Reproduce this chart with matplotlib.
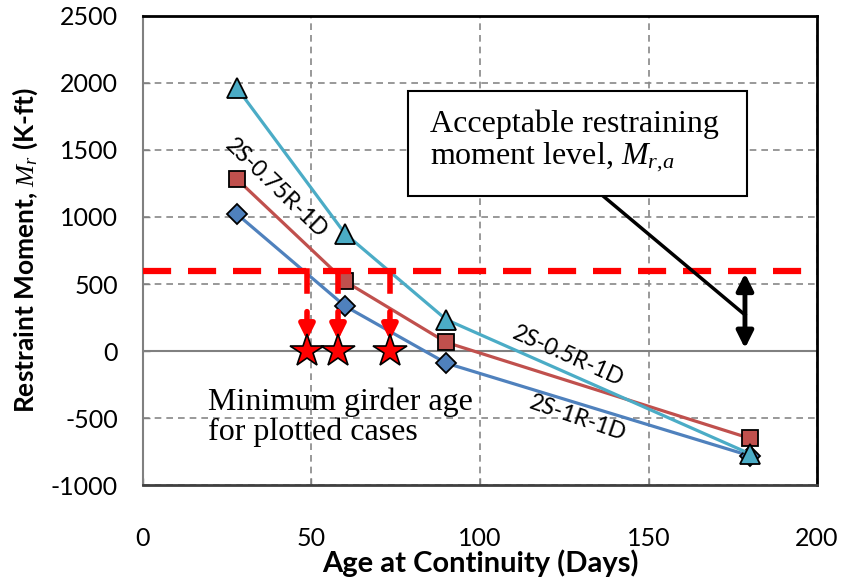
import matplotlib
matplotlib.use("Agg")
import matplotlib.pyplot as plt
from matplotlib.patches import Rectangle

plt.rcParams['mathtext.fontset'] = 'custom'
plt.rcParams['mathtext.it'] = 'Liberation Serif:italic'
plt.rcParams['mathtext.rm'] = 'Liberation Serif'
plt.rcParams['axes.unicode_minus'] = False

# data
age = [28, 60, 90, 180]
m_1r = [1020, 335, -90, -780]      # 2S-1R-1D
m_075r = [1280, 520, 65, -650]     # 2S-0.75R-1D
m_05r = [1960, 875, 235, -765]     # 2S-0.5R-1D
m_accept = 600
min_age = [48.7, 57.9, 73.3]

fig = plt.figure(figsize=(8.45, 5.86), dpi=100)
ax = fig.add_axes([0.169, 0.172, 0.798, 0.801])

ax.set_xlim(0, 200)
ax.set_ylim(-1000, 2500)
ax.set_xticks([0, 50, 100, 150, 200])
ax.set_yticks(range(-1000, 2501, 500))
ax.grid(True, color='#888888', linestyle=(0, (4, 3)), linewidth=1.2)
ax.axhline(0, color='#808080', lw=1.5, zorder=1)
ax.set_axisbelow(True)

blue, red, cyan = '#4F81BD', '#C0504D', '#4BACC6'
ax.plot(age, m_1r, color=blue, lw=2.3, marker='D', ms=10, mfc=blue, mec='black', mew=1.3, zorder=4)
ax.plot(age, m_075r, color=red, lw=2.3, marker='s', ms=12, mfc=red, mec='black', mew=1.3, zorder=4)
ax.plot(age, m_05r, color=cyan, lw=2.3, marker='^', ms=15, mfc=cyan, mec='black', mew=1.3, zorder=4)

# acceptable level and minimum ages
ax.axhline(m_accept, color='red', lw=4.5, linestyle=(0, (4.5, 2.7)), zorder=5)
for a in min_age:
    ax.plot([a, a], [m_accept, 450], color='red', lw=4, zorder=5)
    ax.annotate('', xy=(a, 60), xytext=(a, 315),
                arrowprops=dict(arrowstyle='-|>', color='red', lw=4, mutation_scale=22), zorder=5)
ax.plot(min_age, [0] * len(min_age), linestyle='none', marker='*', ms=25,
        mfc='red', mec='black', mew=1.2, zorder=6)

# double arrow and annotation box
ax.annotate('', xy=(178.6, 600), xytext=(178.6, 0),
            arrowprops=dict(arrowstyle='<|-|>', color='black', lw=3.5, mutation_scale=25), zorder=6)
ax.plot([136.5, 178.6], [1157, 270], color='black', lw=2.5, zorder=6)
ax.add_patch(Rectangle((78.6, 1157), 100.6, 783, fc='white', ec='black', lw=1.5, zorder=7))
ax.text(85.2, 1560, 'Acceptable restraining\nmoment level, $M_{r\\mathrm{,}a}$', family='Liberation Serif',
        fontsize=23, ha='left', va='center', linespacing=1.05, zorder=8)
ax.text(19.3, -493, 'Minimum girder age\nfor plotted cases', family='Liberation Serif',
        fontsize=23, ha='left', va='center', linespacing=1.05, zorder=7)

# series labels
lbl = dict(family='Lato', fontsize=16.5, ha='center', va='center', rotation_mode='anchor', zorder=7)
ax.text(39.5, 1210, '2S-0.75R-1D', rotation=-44, **lbl)
ax.text(126, -40, '2S-0.5R-1D', rotation=-24, **lbl)
ax.text(129, -500, '2S-1R-1D', rotation=-19, **lbl)

for side in ['top', 'right']:
    ax.spines[side].set_color('black')
    ax.spines[side].set_linewidth(2)
ax.spines['bottom'].set_color('#404040')
ax.spines['bottom'].set_linewidth(2)
ax.spines['left'].set_color('#808080')
ax.spines['left'].set_linewidth(1.5)
ax.tick_params(axis='both', direction='in', length=5, width=1, color='#808080', labelsize=18)
ax.tick_params(axis='x', pad=30)
ax.tick_params(axis='y', pad=18)
for t in ax.get_xticklabels() + ax.get_yticklabels():
    t.set_family('Lato')

ax.set_xlabel('Age at Continuity (Days)', family='Lato', fontweight='bold', fontsize=21, labelpad=0)
ax.set_ylabel('Restraint Moment, $M_r$ (K-ft)', family='Lato', fontweight='bold', fontsize=19, labelpad=8)

fig.savefig('out.png', dpi=100)
